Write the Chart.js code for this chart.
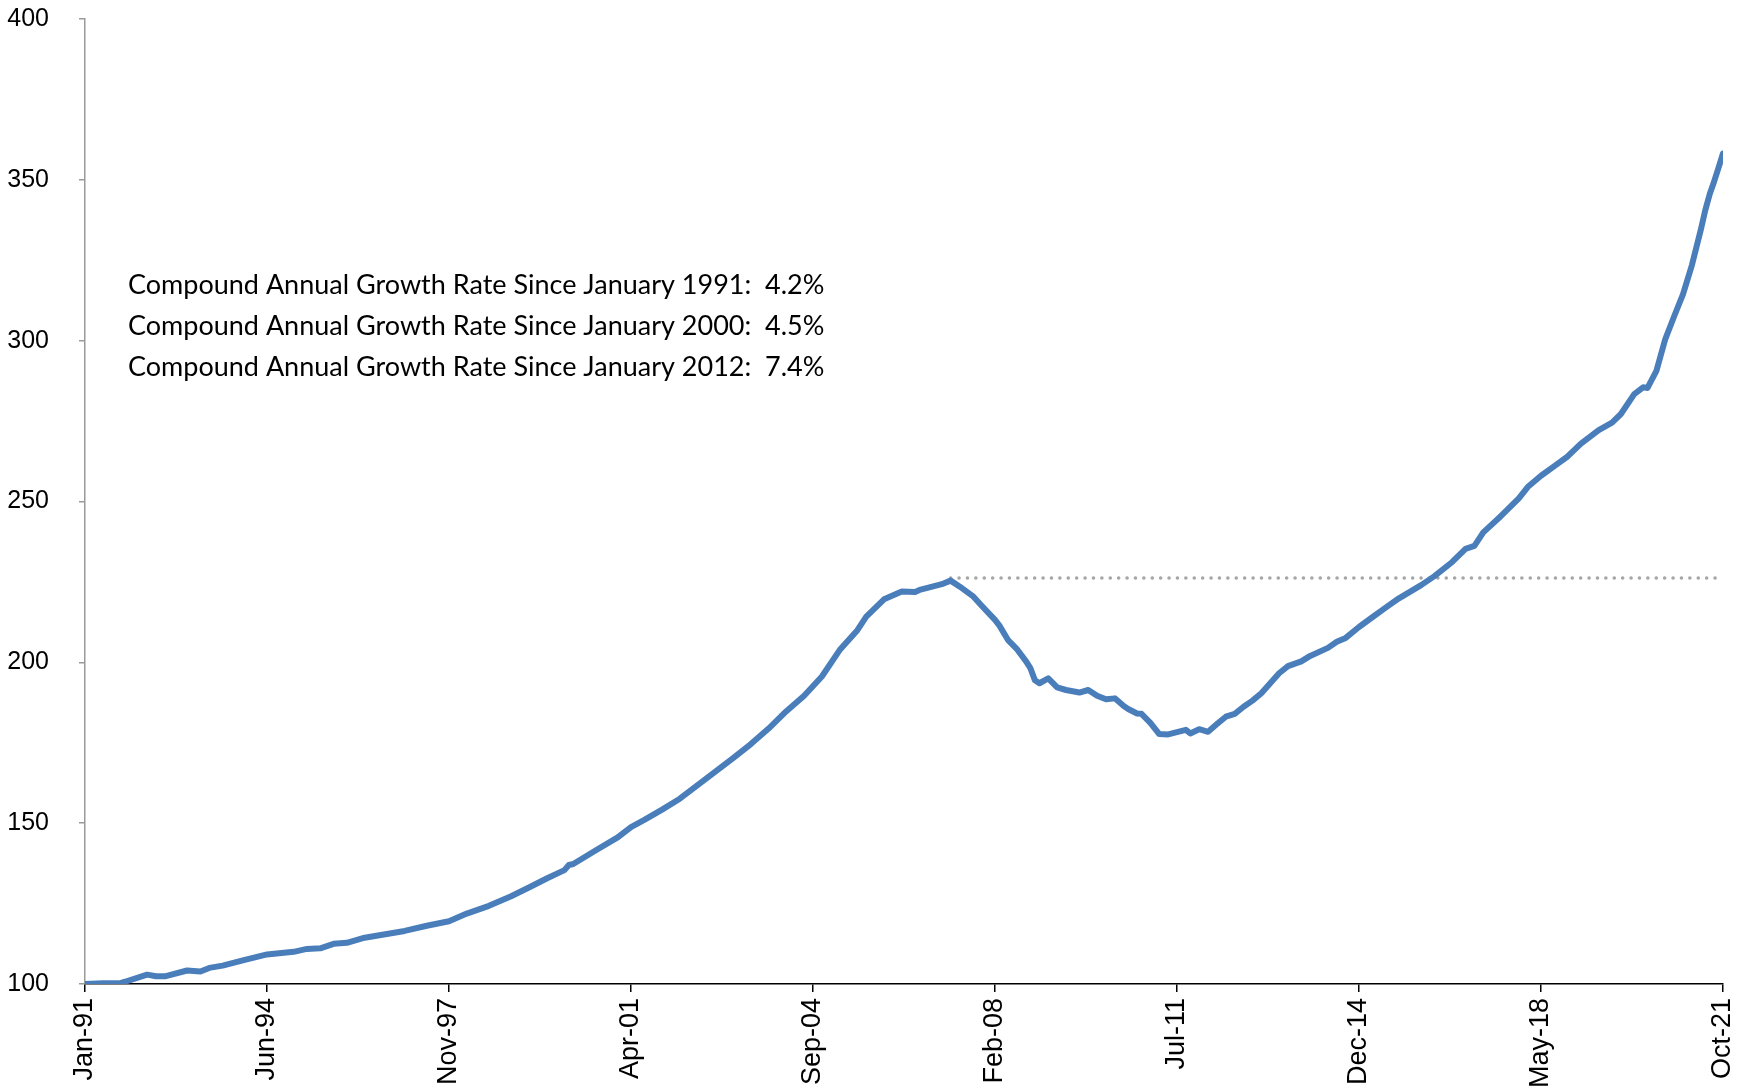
<!DOCTYPE html>
<html>
<head>
<meta charset="utf-8">
<script src="https://cdn.jsdelivr.net/npm/chart.js@4.4.1/dist/chart.umd.min.js"></script>
<style>
  html, body { margin: 0; padding: 0; background: #fff; }
  #wrap { width: 1749px; height: 1091px; }
</style>
</head>
<body>
<div id="wrap"><canvas id="chart" width="1749" height="1091"></canvas></div>
<script>
// Months counted from Jan-91 (0) to Oct-21 (369)
const months = [
    0, 4, 8, 9, 14, 16, 18, 23, 26, 28, 31, 36, 41, 47, 50, 53, 56, 59, 63, 67,
    72, 77, 82, 86, 91, 96, 100, 104, 108, 109, 110, 115, 120, 123, 126, 130, 134, 138, 142, 146,
    150, 154, 158, 162, 166, 170, 174, 176, 180, 184, 187, 188, 190, 193, 195, 197, 200, 202, 205, 206,
    208, 210, 212, 213, 214, 215, 217, 219, 221, 224, 226, 228, 230, 232, 234, 235, 237, 238, 240, 242,
    244, 246, 248, 249, 251, 253, 255, 257, 259, 261, 263, 265, 267, 269, 271, 274, 276, 280, 282, 284,
    287, 290, 293, 296, 301, 304, 308, 311, 313, 315, 319, 323, 325, 328, 331, 334, 337, 341, 344, 346,
    349, 351, 352, 354, 356, 358, 360, 362, 364, 365, 366, 367, 368, 369
];
const indexValues = [
    100.0, 100.2, 100.3, 100.7, 102.9, 102.4, 102.4, 104.2, 103.9, 105.0, 105.7, 107.5, 109.2, 110.0, 110.9, 111.1, 112.5, 112.8, 114.4, 115.3,
    116.5, 118.1, 119.5, 121.9, 124.3, 127.3, 130.0, 132.8, 135.4, 137.0, 137.3, 141.5, 145.6, 148.8, 151.0, 154.2, 157.6, 161.8, 166.0, 170.2,
    174.6, 179.4, 184.8, 189.6, 195.6, 203.8, 210.0, 214.2, 219.6, 222.0, 221.9, 222.5, 223.2, 224.3, 225.4, 223.6, 220.6, 217.6, 213.2, 211.4,
    206.8, 204.0, 200.3, 198.1, 194.4, 193.5, 195.0, 192.2, 191.4, 190.6, 191.4, 189.6, 188.5, 188.8, 186.4, 185.5, 184.1, 184.0, 181.2, 177.7,
    177.6, 178.3, 179.0, 177.9, 179.2, 178.4, 180.8, 183.1, 184.0, 186.2, 188.1, 190.4, 193.5, 196.6, 198.8, 200.3, 202.0, 204.5, 206.4, 207.6,
    211.0, 214.0, 217.0, 219.9, 224.0, 226.8, 231.2, 235.3, 236.2, 240.4, 245.5, 251.0, 254.5, 258.0, 261.0, 264.0, 268.0, 272.2, 274.5, 277.2,
    283.4, 285.5, 285.3, 290.6, 300.5, 307.6, 314.5, 323.5, 334.5, 340.5, 345.5, 349.5, 353.8, 358.2
];
const tickLabels = ['Jan-91', 'Jun-94', 'Nov-97', 'Apr-01', 'Sep-04', 'Feb-08', 'Jul-11', 'Dec-14', 'May-18', 'Oct-21'];
const tickStep = 41;

// previous peak, carried forward as a dotted reference line
const peakMonth = 195;
const peakLevel = 226.2;

const growthNotes = [
    'Compound Annual Growth Rate Since January 1991:  4.2%',
    'Compound Annual Growth Rate Since January 2000:  4.5%',
    'Compound Annual Growth Rate Since January 2012:  7.4%'
];

const notesPlugin = {
    id: 'growthNotes',
    afterDraw(chart) {
        const ctx = chart.ctx;
        ctx.save();
        ctx.font = '27px Lato';
        ctx.fillStyle = '#000';
        ctx.textBaseline = 'middle';
        growthNotes.forEach((text, i) => {
            ctx.fillText(text, 128, 285 + i * 41);
        });
        ctx.restore();
    }
};

const axisFont = { family: '"Liberation Sans", Arial, sans-serif' };

// keep the plot area where the original has it
function noScalePadding(scale) {
    scale.paddingTop = 0;
    scale.paddingBottom = 0;
    scale.paddingLeft = 0;
    scale.paddingRight = 0;
}

new Chart(document.getElementById('chart'), {
    type: 'line',
    data: {
        datasets: [
            {
                data: months.map((m, i) => ({ x: m, y: indexValues[i] })),
                borderColor: '#4A7EBB',
                borderWidth: 6,
                pointRadius: 0,
                tension: 0,
                borderCapStyle: 'round',
                borderJoinStyle: 'round'
            },
            {
                data: [{ x: peakMonth, y: peakLevel }, { x: months[months.length - 1], y: peakLevel }],
                borderColor: '#A6A6A6',
                borderWidth: 3.5,
                borderDash: [0.1, 8.3],
                borderCapStyle: 'round',
                pointRadius: 0
            }
        ]
    },
    options: {
        responsive: false,
        animation: false,
        devicePixelRatio: 1,
        layout: { padding: { top: 19, right: 26, bottom: 0, left: 0 } },
        plugins: {
            legend: { display: false },
            tooltip: { enabled: false }
        },
        scales: {
            x: {
                type: 'linear',
                min: 0,
                max: 369,
                afterBuildTicks(scale) {
                    scale.ticks = tickLabels.map((_, i) => ({ value: i * tickStep }));
                },
                afterFit(scale) {
                    scale.height = 107;
                    noScalePadding(scale);
                },
                ticks: {
                    autoSkip: false,
                    maxRotation: 90,
                    minRotation: 90,
                    padding: 6,
                    color: '#000',
                    font: { ...axisFont, size: 27 },
                    callback: (value) => tickLabels[Math.round(value / tickStep)]
                },
                grid: { drawOnChartArea: false, drawTicks: true, tickLength: 8, color: '#000', lineWidth: 1.5 },
                border: { display: true, color: '#000', width: 1.5 }
            },
            y: {
                min: 100,
                max: 400,
                afterFit(scale) {
                    scale.width = 85;
                    noScalePadding(scale);
                },
                ticks: {
                    stepSize: 50,
                    padding: 30,
                    color: '#000',
                    font: { ...axisFont, size: 25 }
                },
                grid: { drawOnChartArea: false, drawTicks: true, tickLength: 6, color: '#9A9A9A', lineWidth: 1.5 },
                border: { display: true, color: '#9A9A9A', width: 1.5 }
            }
        }
    },
    plugins: [notesPlugin]
});
</script>
</body>
</html>
